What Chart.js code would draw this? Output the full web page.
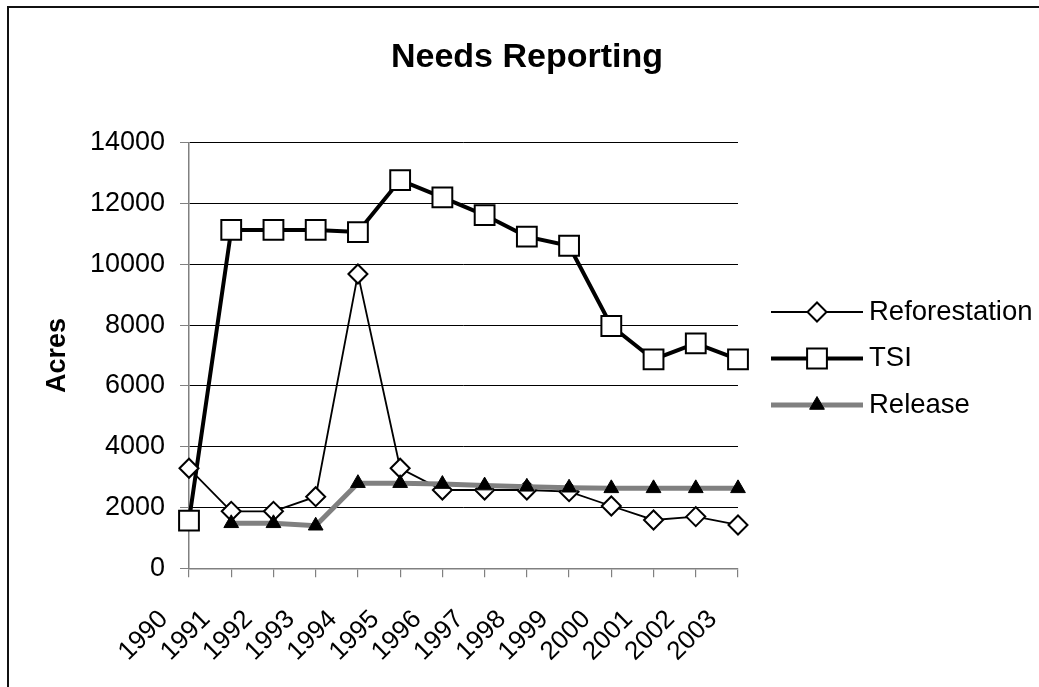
<!DOCTYPE html>
<html>
<head>
<meta charset="utf-8">
<title>Needs Reporting</title>
<script src="https://cdn.jsdelivr.net/npm/chart.js@4.4.1/dist/chart.umd.min.js"></script>
<style>
  html, body { margin: 0; padding: 0; background: #fff; overflow: hidden; }
  #frame { position: absolute; left: 7px; top: 6px; width: 1200px; height: 900px;
           border-left: 2px solid #111; border-top: 2px solid #111; }
  #wrap { position: absolute; left: 0; top: 0; width: 1039px; height: 687px; }
</style>
</head>
<body>
<div id="frame"></div>
<div id="wrap"><canvas id="chart" width="1039" height="687"></canvas></div>
<script>
// Acres needing reporting, by year
const years = ['1990', '1991', '1992', '1993', '1994', '1995', '1996',
               '1997', '1998', '1999', '2000', '2001', '2002', '2003'];
const reforestation = [3290, 1875, 1875, 2355, 9680, 3290, 2575, 2575, 2575, 2520, 2050, 1590, 1700, 1425];
const tsi           = [1570, 11130, 11130, 11130, 11060, 12770, 12200, 11620, 10910, 10610, 7970, 6870, 7400, 6870];
const release       = [null, 1480, 1480, 1400, 2800, 2800, 2770, 2720, 2680, 2650, 2630, 2630, 2630, 2630];
const yTicks = [0, 2000, 4000, 6000, 8000, 10000, 12000, 14000];
const chartTitle = 'Needs Reporting';

const FONT = "'Liberation Sans', Arial, Helvetica, sans-serif";
const GRAY = '#808080';

// Marker shapes, same geometry as Chart.js point styles
function drawMarker(ctx, style, x, y, r, fill, stroke, lw) {
  ctx.save();
  ctx.beginPath();
  if (style === 'rect') {
    const s = Math.SQRT1_2 * r;
    ctx.rect(x - s, y - s, 2 * s, 2 * s);
  } else if (style === 'rectRot') {
    ctx.moveTo(x - r, y); ctx.lineTo(x, y - r); ctx.lineTo(x + r, y); ctx.lineTo(x, y + r);
    ctx.closePath();
  } else if (style === 'triangle') {
    let rad = 0;
    ctx.moveTo(x + Math.sin(rad) * r, y - Math.cos(rad) * r);
    rad += 2 * Math.PI / 3;
    ctx.lineTo(x + Math.sin(rad) * r, y - Math.cos(rad) * r);
    rad += 2 * Math.PI / 3;
    ctx.lineTo(x + Math.sin(rad) * r, y - Math.cos(rad) * r);
    ctx.closePath();
  }
  ctx.fillStyle = fill; ctx.fill();
  if (lw > 0) { ctx.lineWidth = lw; ctx.strokeStyle = stroke; ctx.stroke(); }
  ctx.restore();
}

// Chart heading, centred over the plot and legend block
const heading = {
  id: 'heading',
  afterDraw(chart) {
    const ctx = chart.ctx;
    ctx.save();
    ctx.font = 'bold 34px ' + FONT;
    ctx.fillStyle = '#000';
    ctx.textAlign = 'center';
    ctx.textBaseline = 'middle';
    ctx.fillText(chartTitle, 527, 58);
    ctx.restore();
  }
};

// Rotated year labels under the category axis
const yearLabels = {
  id: 'yearLabels',
  afterDraw(chart) {
    const s = chart.scales.x;
    const ctx = chart.ctx;
    ctx.save();
    ctx.font = '26px ' + FONT;
    ctx.fillStyle = '#000';
    ctx.textAlign = 'right';
    ctx.textBaseline = 'middle';
    s.ticks.forEach((t, i) => {
      const x = s.getPixelForTick(i);
      ctx.save();
      ctx.translate(x - 25, s.top + 47);
      ctx.rotate(-Math.PI / 4);
      ctx.fillText(years[i], 0, 0);
      ctx.restore();
    });
    ctx.restore();
  }
};

// Legend at the right: line sample with its marker, then the series name
const sideLegend = {
  id: 'sideLegend',
  afterDraw(chart) {
    const ctx = chart.ctx;
    const x0 = 771, x1 = 863, xm = 817, xt = 869;
    const rows = [312, 358.5, 405];
    chart.data.datasets.forEach((ds, i) => {
      const y = rows[i];
      ctx.save();
      ctx.beginPath();
      ctx.moveTo(x0, y); ctx.lineTo(x1, y);
      ctx.lineWidth = ds.borderWidth;
      ctx.strokeStyle = ds.borderColor;
      ctx.stroke();
      drawMarker(ctx, ds.pointStyle, xm, y, ds.pointRadius,
                 ds.pointBackgroundColor, ds.pointBorderColor, ds.pointBorderWidth);
      ctx.font = '27.5px ' + FONT;
      ctx.fillStyle = '#000';
      ctx.textAlign = 'left';
      ctx.textBaseline = 'middle';
      ctx.fillText(ds.label, xt, y);
      ctx.restore();
    });
  }
};

new Chart(document.getElementById('chart'), {
  type: 'line',
  data: {
    labels: years,
    datasets: [
      {
        label: 'Reforestation',
        data: reforestation,
        borderColor: '#000', borderWidth: 1.8,
        pointStyle: 'rectRot', pointRadius: 9.5,
        pointBackgroundColor: '#fff', pointBorderColor: '#000', pointBorderWidth: 2,
        tension: 0, clip: false, order: 2
      },
      {
        label: 'TSI',
        data: tsi,
        borderColor: '#000', borderWidth: 4,
        pointStyle: 'rect', pointRadius: 14,
        pointBackgroundColor: '#fff', pointBorderColor: '#000', pointBorderWidth: 2,
        tension: 0, clip: false, order: 3
      },
      {
        label: 'Release',
        data: release,
        borderColor: GRAY, borderWidth: 5,
        pointStyle: 'triangle', pointRadius: 8.5,
        pointBackgroundColor: '#000', pointBorderColor: '#000', pointBorderWidth: 1,
        tension: 0, clip: false, order: 1
      }
    ]
  },
  options: {
    responsive: false,
    animation: false,
    devicePixelRatio: 1,
    events: [],
    layout: { padding: { top: 142.7, left: 0, right: 0, bottom: 0 } },
    plugins: {
      legend: { display: false },
      tooltip: { enabled: false },
      title: { display: false }
    },
    scales: {
      x: {
        type: 'category',
        offset: false,
        afterFit(s) { s.height = 118.7; },
        ticks: { display: false, autoSkip: false },
        grid: { drawOnChartArea: false, drawTicks: true, tickLength: 9, tickColor: GRAY, lineWidth: 1.2 },
        border: { color: GRAY, width: 1.5 }
      },
      y: {
        min: 0, max: 14000,
        afterBuildTicks(s) { s.ticks = yTicks.map(v => ({ value: v })); },
        afterFit(s) { s.width = 189; },
        ticks: { color: '#000', font: { family: FONT, size: 27 }, padding: 15, callback: v => String(v) },
        grid: {
          color: ctx => (ctx.tick && ctx.tick.value === 0 ? GRAY : '#000'),
          lineWidth: 1,
          tickLength: 9, tickColor: GRAY
        },
        border: { color: GRAY, width: 1.5 },
        title: {
          display: true, text: 'Acres', color: '#000',
          font: { family: FONT, size: 27, weight: 'bold' },
          padding: { top: 41, bottom: 0 }
        }
      },
      // empty column at the right that holds the legend
      legendSpace: {
        type: 'linear',
        position: 'right',
        display: true,
        afterFit(s) { s.width = 301; },
        ticks: { display: false },
        grid: { display: false },
        border: { display: false }
      }
    }
  },
  plugins: [heading, yearLabels, sideLegend]
});
</script>
</body>
</html>
